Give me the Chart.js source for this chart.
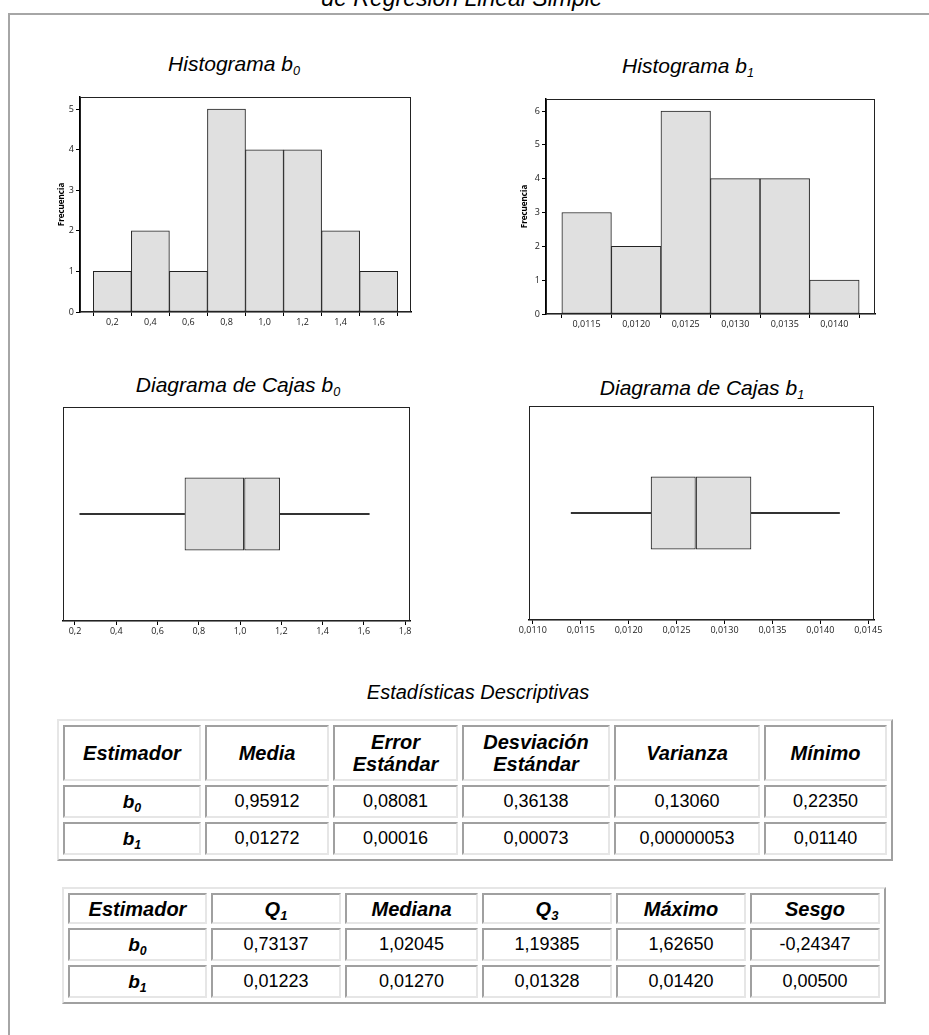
<!DOCTYPE html>
<html lang="es">
<head>
<meta charset="utf-8">
<title>Histogramas y diagramas de cajas de b0 y b1</title>
<script src="https://cdn.jsdelivr.net/npm/chart.js@4.4.1/dist/chart.umd.min.js"></script>
<style>
  html, body { margin: 0; padding: 0; background: #fff; }
  body { width: 929px; height: 1035px; position: relative; overflow: hidden; font-family: "Liberation Sans", Arial, sans-serif; color: #000; }
  .frame { position: absolute; left: 8px; top: 13px; width: 1000px; height: 1100px; border: 2px solid #a6a6a6; }
  .ttl { position: absolute; font-style: italic; font-size: 21px; line-height: 24px; white-space: nowrap; transform: translateX(-50%); }
  .ttl sub { font-size: 0.6em; vertical-align: -0.3em; line-height: 0; }
  canvas { position: absolute; }
  table.est { position: absolute; border-collapse: separate; border-spacing: 4px; border: 2px solid; border-color: #e6e6e6 #a0a0a0 #a0a0a0 #e6e6e6; table-layout: fixed; }
  table.est th, table.est td { box-sizing: border-box; border: 2px solid; border-color: #a0a0a0 #e6e6e6 #e6e6e6 #a0a0a0; text-align: center; padding: 0; font-size: 18px; font-weight: normal; }
  table.est th { font-weight: bold; font-style: italic; font-size: 20px; line-height: 22px; }
  table.est td.nom { font-weight: bold; font-style: italic; font-size: 19px; }
  table.est sub { font-size: 0.65em; vertical-align: -0.3em; line-height: 0; }
</style>
</head>
<body>
<div class="frame"></div>
<div class="ttl" style="left:462px; top:-14px; font-size:23px;">de Regresión Lineal Simple</div>

<div class="ttl" style="left:234px; top:52px;">Histograma b<sub>0</sub></div>
<div class="ttl" style="left:688px; top:54px;">Histograma b<sub>1</sub></div>
<div class="ttl" style="left:238px; top:373px;">Diagrama de Cajas b<sub>0</sub></div>
<div class="ttl" style="left:702px; top:376px;">Diagrama de Cajas b<sub>1</sub></div>
<div class="ttl" style="left:478px; top:680px; font-size:20px;">Estadísticas Descriptivas</div>

<canvas id="histB0" width="380" height="245" style="left:40px; top:88px;"></canvas>
<canvas id="histB1" width="390" height="245" style="left:500px; top:88px;"></canvas>
<canvas id="cajaB0" width="380" height="245" style="left:40px; top:398px;"></canvas>
<canvas id="cajaB1" width="400" height="245" style="left:490px; top:398px;"></canvas>

<table class="est" id="tabla1" style="left:57px; top:719px; width:836px;"></table>
<table class="est" id="tabla2" style="left:62px; top:887px; width:824px;"></table>

<script>
// Histograma b0 (centros de clase y frecuencias)
const b0BinCenters = [0.2, 0.4, 0.6, 0.8, 1.0, 1.2, 1.4, 1.6];
const b0Freq = [1, 2, 1, 5, 4, 4, 2, 1];
const b0HistXTicks = [0.2, 0.4, 0.6, 0.8, 1.0, 1.2, 1.4, 1.6];
const b0HistYTicks = [0, 1, 2, 3, 4, 5];

// Histograma b1
const b1BinCenters = [0.0115, 0.0120, 0.0125, 0.0130, 0.0135, 0.0140];
const b1Freq = [3, 2, 6, 4, 4, 1];
const b1HistXTicks = [0.0115, 0.0120, 0.0125, 0.0130, 0.0135, 0.0140];
const b1HistYTicks = [0, 1, 2, 3, 4, 5, 6];

// Diagramas de cajas: minimo, Q1, mediana, Q3, maximo
const b0Box = [0.22350, 0.73137, 1.02045, 1.19385, 1.62650];
const b1Box = [0.01140, 0.01223, 0.01270, 0.01328, 0.01420];
const b0BoxTicks = [0.2, 0.4, 0.6, 0.8, 1.0, 1.2, 1.4, 1.6, 1.8];
const b1BoxTicks = [0.0110, 0.0115, 0.0120, 0.0125, 0.0130, 0.0135, 0.0140, 0.0145];

// Tablas de estadisticas descriptivas
const tabla1Head = ['Estimador', 'Media', 'Error<br>Estándar', 'Desviación<br>Estándar', 'Varianza', 'Mínimo'];
const tabla1Rows = [
  ['b<sub>0</sub>', '0,95912', '0,08081', '0,36138', '0,13060', '0,22350'],
  ['b<sub>1</sub>', '0,01272', '0,00016', '0,00073', '0,00000053', '0,01140']
];
const tabla2Head = ['Estimador', 'Q<sub>1</sub>', 'Mediana', 'Q<sub>3</sub>', 'Máximo', 'Sesgo'];
const tabla2Rows = [
  ['b<sub>0</sub>', '0,73137', '1,02045', '1,19385', '1,62650', '-0,24347'],
  ['b<sub>1</sub>', '0,01223', '0,01270', '0,01328', '0,01420', '0,00500']
];

const GRIS = '#e0e0e0';
const LINEA = '#222';
const tickFont = { family: '"Open Sans", "DejaVu Sans", sans-serif', size: 9 };
const coma = (v, d) => v.toFixed(d).replace('.', ',');

// marco alrededor del area de trazado
const marco = {
  id: 'marco',
  afterDraw(chart) {
    const { ctx, chartArea: a } = chart;
    ctx.save();
    ctx.strokeStyle = LINEA;
    ctx.lineWidth = 1;
    ctx.strokeRect(Math.round(a.left) + 0.5, Math.round(a.top) + 0.5,
      Math.round(a.right - a.left) - 1, Math.round(a.bottom - a.top) - 1);
    ctx.restore();
  }
};

function ejeX(ticks, dec, min, max, alto) {
  return {
    type: 'linear', min, max, offset: false,
    afterBuildTicks: s => { s.ticks = ticks.map(v => ({ value: v })); },
    afterFit: s => { s.height = alto; s.paddingLeft = 0; s.paddingRight = 0; },
    grid: { display: true, drawOnChartArea: false, drawTicks: true, tickLength: 4, color: '#000' },
    border: { display: true, color: '#000', width: 1.5 },
    ticks: { font: tickFont, color: '#1a1a1a', padding: 1, maxRotation: 0, autoSkip: false, callback: v => coma(v, dec) }
  };
}

function histograma(id, centers, freq, xTicks, yTicks, dec, xMin, xMax, yMax, pad, anchoY, altoX) {
  new Chart(document.getElementById(id), {
    type: 'bar',
    data: {
      datasets: [{
        data: centers.map((c, i) => ({ x: c, y: freq[i] })),
        backgroundColor: GRIS,
        borderColor: LINEA,
        borderWidth: 1,
        borderSkipped: false,
        barPercentage: 1,
        categoryPercentage: 1
      }]
    },
    options: {
      responsive: false,
      animation: false,
      layout: { padding: pad },
      plugins: { legend: { display: false }, tooltip: { enabled: false } },
      scales: {
        x: ejeX(xTicks, dec, xMin, xMax, altoX),
        y: {
          type: 'linear', min: 0, max: yMax,
          afterBuildTicks: s => { s.ticks = yTicks.map(v => ({ value: v })); },
          afterFit: s => { s.width = anchoY; s.paddingTop = 0; s.paddingBottom = 0; },
          grid: { display: true, drawOnChartArea: false, drawTicks: true, tickLength: 4, color: '#000' },
          border: { display: true, color: '#000', width: 1.5 },
          ticks: { font: tickFont, color: '#1a1a1a', padding: 2 },
          title: { display: true, text: 'Frecuencia', color: '#000', padding: { top: 4, bottom: 2 },
                   font: { family: tickFont.family, size: 8, weight: 'bold' } }
        }
      }
    },
    plugins: [marco]
  });
}

function caja(id, st, ticks, dec, xMin, xMax, pad, altoX) {
  const bigote = { barThickness: 1.5, backgroundColor: '#333', borderWidth: 0, grouped: false };
  const cuerpo = { barPercentage: 0.34, categoryPercentage: 1, backgroundColor: GRIS, borderColor: '#333',
                   borderWidth: 1.2, borderSkipped: false, grouped: false };
  new Chart(document.getElementById(id), {
    type: 'bar',
    data: {
      labels: [''],
      datasets: [
        { ...bigote, data: [[st[0], st[1]]] },
        { ...bigote, data: [[st[3], st[4]]] },
        { ...cuerpo, data: [[st[1], st[2]]] },
        { ...cuerpo, data: [[st[2], st[3]]] }
      ]
    },
    options: {
      indexAxis: 'y',
      responsive: false,
      animation: false,
      layout: { padding: pad },
      plugins: { legend: { display: false }, tooltip: { enabled: false } },
      scales: {
        x: ejeX(ticks, dec, xMin, xMax, altoX),
        y: { display: false }
      }
    },
    plugins: [marco]
  });
}

histograma('histB0', b0BinCenters, b0Freq, b0HistXTicks, b0HistYTicks, 1, 0.03, 1.77, 5.3,
  { left: 13, top: 9, right: 9, bottom: 0 }, 27, 21);
histograma('histB1', b1BinCenters, b1Freq, b1HistXTicks, b1HistYTicks, 4, 0.01109, 0.01441, 6.355,
  { left: 16, top: 11, right: 15, bottom: 0 }, 30, 19);
caja('cajaB0', b0Box, b0BoxTicks, 1, 0.142, 1.824, { left: 23, top: 9, right: 10, bottom: 0 }, 22);
caja('cajaB1', b1Box, b1BoxTicks, 4, 0.01096, 0.01456, { left: 39, top: 8, right: 16, bottom: 0 }, 23);

function tabla(id, head, rows, anchos, altoHead, altoFila) {
  const th = head.map((h, i) => `<th style="width:${anchos[i]}px; height:${altoHead}px">${h}</th>`).join('');
  const trs = rows.map(r => `<tr>${r.map((c, i) =>
    `<td class="${i === 0 ? 'nom' : ''}" style="height:${altoFila}px">${c}</td>`).join('')}</tr>`).join('');
  document.getElementById(id).innerHTML = `<tr>${th}</tr>${trs}`;
}

tabla('tabla1', tabla1Head, tabla1Rows, [138, 124, 125, 148, 146, 123], 56, 33);
tabla('tabla2', tabla2Head, tabla2Rows, [139, 130, 133, 130, 130, 130], 31, 33);
</script>
</body>
</html>
